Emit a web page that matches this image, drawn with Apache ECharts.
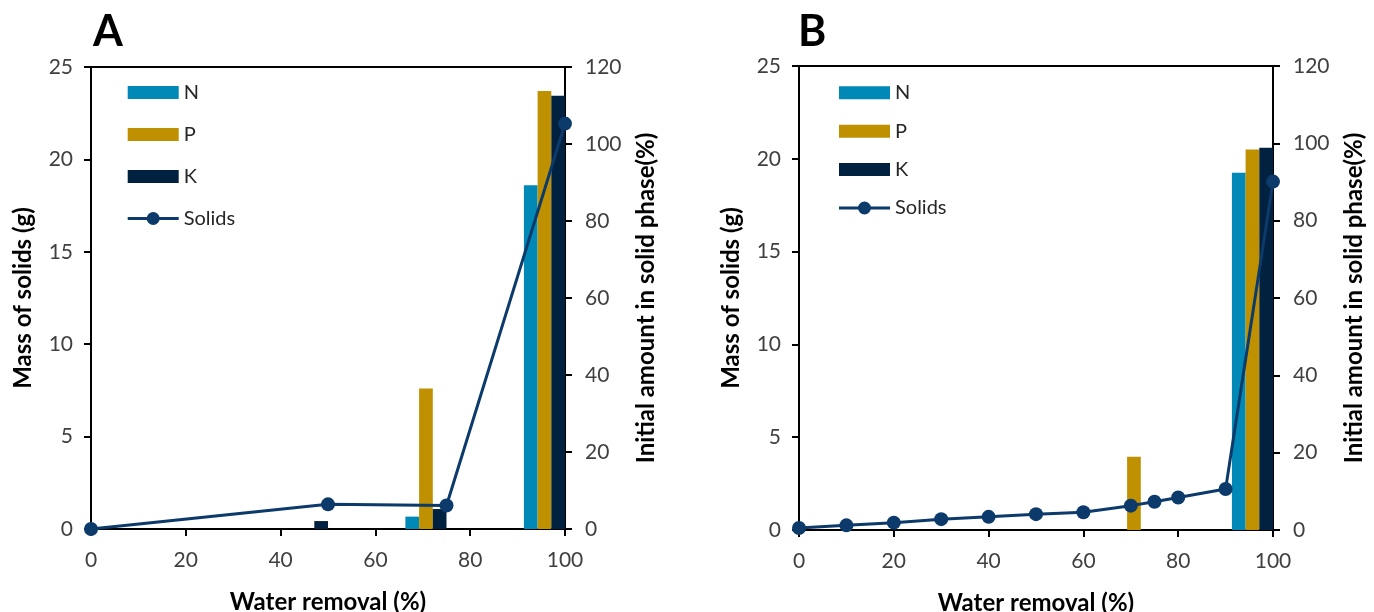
<!DOCTYPE html>
<html>
<head>
<meta charset="utf-8">
<script src="https://cdn.jsdelivr.net/npm/echarts@6/dist/echarts.min.js"></script>
<style>html,body{margin:0;padding:0;background:#fff}#c{width:1374px;height:612px}</style>
</head>
<body>
<div id="c"></div>
<script>
// ---- data ----
const barX = [50, 75, 100];               // water removal (%) where N/P/K bars are reported
const nA = [null, 0.67, 18.6];
const pA = [null, 7.6, 23.7];
const kA = [0.43, 1.08, 23.45];
const solidsXA = [0, 50, 75, 100];
const solidsA = [0, 6.4, 6.1, 105.3];

const nB = [null, null, 19.25];
const pB = [null, 3.95, 20.5];
const kB = [null, null, 20.6];
const solidsXB = [0, 10, 20, 30, 40, 50, 60, 70, 75, 80, 90, 100];
const solidsB = [0.5, 1.2, 1.9, 2.8, 3.4, 4.1, 4.6, 6.3, 7.3, 8.4, 10.6, 90.1];

const xTicks = [0, 20, 40, 60, 80, 100];
const leftTicks = [0, 5, 10, 15, 20, 25];
const rightTicks = [0, 20, 40, 60, 80, 100, 120];
const panelLabels = ['A', 'B'];
const xTitle = 'Water removal (%)';
const leftTitle = 'Mass of solids (g)';
const rightTitle = 'Initial amount in solid phase(%)';

// ---- styles ----
const FONT = 'Lato';
const C_N = '#0088B6', C_P = '#BF9000', C_K = '#00213F', C_S = '#0B3A6B';
const BW = 13.7;
const LINE_ICON = 'path://M0 5 L51 5 L51 8 L0 8 Z M19 6.5 A6.5 6.5 0 1 1 32 6.5 A6.5 6.5 0 1 1 19 6.5 Z';

function pair(xs, ys) { return xs.map((x, i) => [x, ys[i]]); }

function axisCommon() {
  return {
    axisLine: { show: true, lineStyle: { color: '#000', width: 2 } },
    axisTick: { show: true, length: 7, lineStyle: { color: '#000', width: 2 } },
    splitLine: { show: false },
    axisLabel: { color: '#404040', fontFamily: FONT, fontSize: 21 },
    nameTextStyle: { color: '#000', fontFamily: FONT, fontSize: 24, fontWeight: 'bold' }
  };
}

const grids = [
  { left: 91, top: 67, width: 474, height: 462 },
  { left: 799, top: 66, width: 474, height: 464 }
];

const xAxes = [], yAxes = [], series = [], legends = [];
const barSets = [[nA, pA, kA], [nB, pB, kB]];
const solidSets = [[solidsXA, solidsA], [solidsXB, solidsB]];

grids.forEach((g, gi) => {
  Object.assign(g, { show: true, borderColor: '#000', borderWidth: 2, backgroundColor: 'transparent',
                     containLabel: false, outerBoundsMode: 'none' });
  xAxes.push(Object.assign(axisCommon(), {
    gridIndex: gi, type: 'value', min: xTicks[0], max: xTicks[xTicks.length - 1], interval: 20,
    name: xTitle, nameLocation: 'middle', nameGap: 61
  }));
  xAxes[gi].axisLabel.margin = 21;
  yAxes.push(Object.assign(axisCommon(), {
    gridIndex: gi, type: 'value', position: 'left', min: leftTicks[0], max: leftTicks[leftTicks.length - 1], interval: 5,
    name: leftTitle, nameLocation: 'middle', nameGap: 56
  }));
  yAxes[yAxes.length - 1].axisLabel.margin = 18;
  yAxes.push(Object.assign(axisCommon(), {
    gridIndex: gi, type: 'value', position: 'right', min: rightTicks[0], max: rightTicks[rightTicks.length - 1], interval: 20,
    name: rightTitle, nameLocation: 'middle', nameGap: 69
  }));
  yAxes[yAxes.length - 1].axisLabel.margin = 20;

  const names = ['N', 'P', 'K'], cols = [C_N, C_P, C_K];
  barSets[gi].forEach((vals, si) => {
    series.push({
      type: 'bar', name: names[si], xAxisIndex: gi, yAxisIndex: gi * 2,
      data: pair(barX, vals), barWidth: BW, barGap: 0,
      itemStyle: { color: cols[si] }
    });
  });
  // empty spacer so that each N/P/K group ends at its x value
  series.push({
    type: 'bar', name: '_spacer', xAxisIndex: gi, yAxisIndex: gi * 2,
    data: pair(barX, [null, null, null]), barWidth: BW * 3, barGap: 0,
    itemStyle: { color: 'transparent' }, silent: true
  });
  series.push({
    type: 'line', name: 'Solids', xAxisIndex: gi, yAxisIndex: gi * 2 + 1,
    data: pair(solidSets[gi][0], solidSets[gi][1]),
    symbol: 'circle', symbolSize: 14, clip: false, z: 5,
    lineStyle: { color: C_S, width: 3 }, itemStyle: { color: C_S }
  });
});

function legendData() {
  return [{ name: 'N', icon: 'rect' }, { name: 'P', icon: 'rect' }, { name: 'K', icon: 'rect' },
          { name: 'Solids', icon: LINE_ICON, itemStyle: { color: C_S, borderWidth: 0 }, lineStyle: { width: 0 } }];
}
legends.push({
  orient: 'vertical', left: 127.7, top: 81.5, padding: 0, itemWidth: 51, itemHeight: 13, itemGap: 20,
  textStyle: { color: '#262626', fontFamily: FONT, fontSize: 20, lineHeight: 22 },
  data: legendData()
});
legends.push({
  orient: 'vertical', left: 839, top: 81.8, padding: 0, itemWidth: 51, itemHeight: 13, itemGap: 16.4,
  textStyle: { color: '#262626', fontFamily: FONT, fontSize: 20, lineHeight: 22 },
  data: legendData()
});

const titles = [
  { text: panelLabels[0], left: 93, top: 11, padding: 0, textStyle: { fontFamily: FONT, fontSize: 43, fontWeight: 'bold', color: '#000' } },
  { text: panelLabels[1], left: 798, top: 11, padding: 0, textStyle: { fontFamily: FONT, fontSize: 43, fontWeight: 'bold', color: '#000' } }
];

const chart = echarts.init(document.getElementById('c'), null, { renderer: 'canvas' });
chart.setOption({
  animation: false,
  backgroundColor: '#fff',
  title: titles,
  legend: legends,
  grid: grids,
  xAxis: xAxes,
  yAxis: yAxes,
  series: series
});
</script>
</body>
</html>
